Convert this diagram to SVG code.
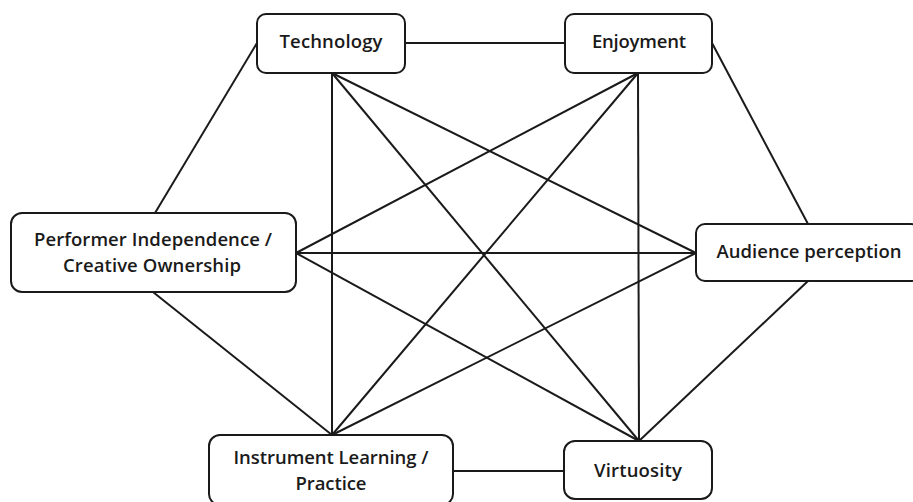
<svg xmlns="http://www.w3.org/2000/svg" width="913" height="502" viewBox="0 0 913 502">
  <style>
    .box { fill: #ffffff; stroke: #1a1a1a; stroke-width: 2; }
    .lbl { font-family: "Open Sans", "Noto Sans", sans-serif; font-size: 18.5px; font-weight: 600; fill: #1a1a1a; text-anchor: middle; }
    #edges line { stroke: #1a1a1a; stroke-width: 2; }
  </style>
  <rect width="913" height="502" fill="#ffffff"/>

  <g id="edges">
    <line x1="405" y1="43" x2="565" y2="43"/>
    <line x1="257" y1="43" x2="155" y2="213"/>
    <line x1="712" y1="43" x2="808" y2="224"/>
    <line x1="153" y1="292" x2="332" y2="435"/>
    <line x1="808" y1="281" x2="639" y2="441"/>
    <line x1="453" y1="471" x2="564" y2="471"/>
    <line x1="332" y1="73" x2="332" y2="435"/>
    <line x1="332" y1="73" x2="696" y2="253"/>
    <line x1="332" y1="73" x2="639" y2="441"/>
    <line x1="638" y1="73" x2="296" y2="253"/>
    <line x1="638" y1="73" x2="332" y2="435"/>
    <line x1="638" y1="73" x2="639" y2="441"/>
    <line x1="296" y1="253" x2="696" y2="253"/>
    <line x1="296" y1="253" x2="639" y2="441"/>
    <line x1="696" y1="253" x2="332" y2="435"/>
  </g>

  <g id="technology">
    <rect class="box" x="257" y="14" width="148" height="59" rx="9"/>
    <text class="lbl" x="331" y="48" textLength="103">Technology</text>
  </g>
  <g id="enjoyment">
    <rect class="box" x="565" y="14" width="147" height="59" rx="9"/>
    <text class="lbl" x="639" y="48" textLength="94">Enjoyment</text>
  </g>
  <g id="performer">
    <rect class="box" x="11" y="213" width="285" height="79" rx="11"/>
    <text class="lbl" x="153" y="246" textLength="238">Performer Independence /</text>
    <text class="lbl" x="152" y="272" textLength="178">Creative Ownership</text>
  </g>
  <g id="audience">
    <rect class="box" x="696" y="224" width="224" height="57" rx="9"/>
    <text class="lbl" x="809" y="258" textLength="185">Audience perception</text>
  </g>
  <g id="instrument">
    <rect class="box" x="209" y="435" width="244" height="70" rx="11"/>
    <text class="lbl" x="331" y="464" textLength="195">Instrument Learning /</text>
    <text class="lbl" x="331" y="490" textLength="71">Practice</text>
  </g>
  <g id="virtuosity">
    <rect class="box" x="564" y="441" width="148" height="58" rx="11"/>
    <text class="lbl" x="638" y="477" textLength="88">Virtuosity</text>
  </g>
</svg>
